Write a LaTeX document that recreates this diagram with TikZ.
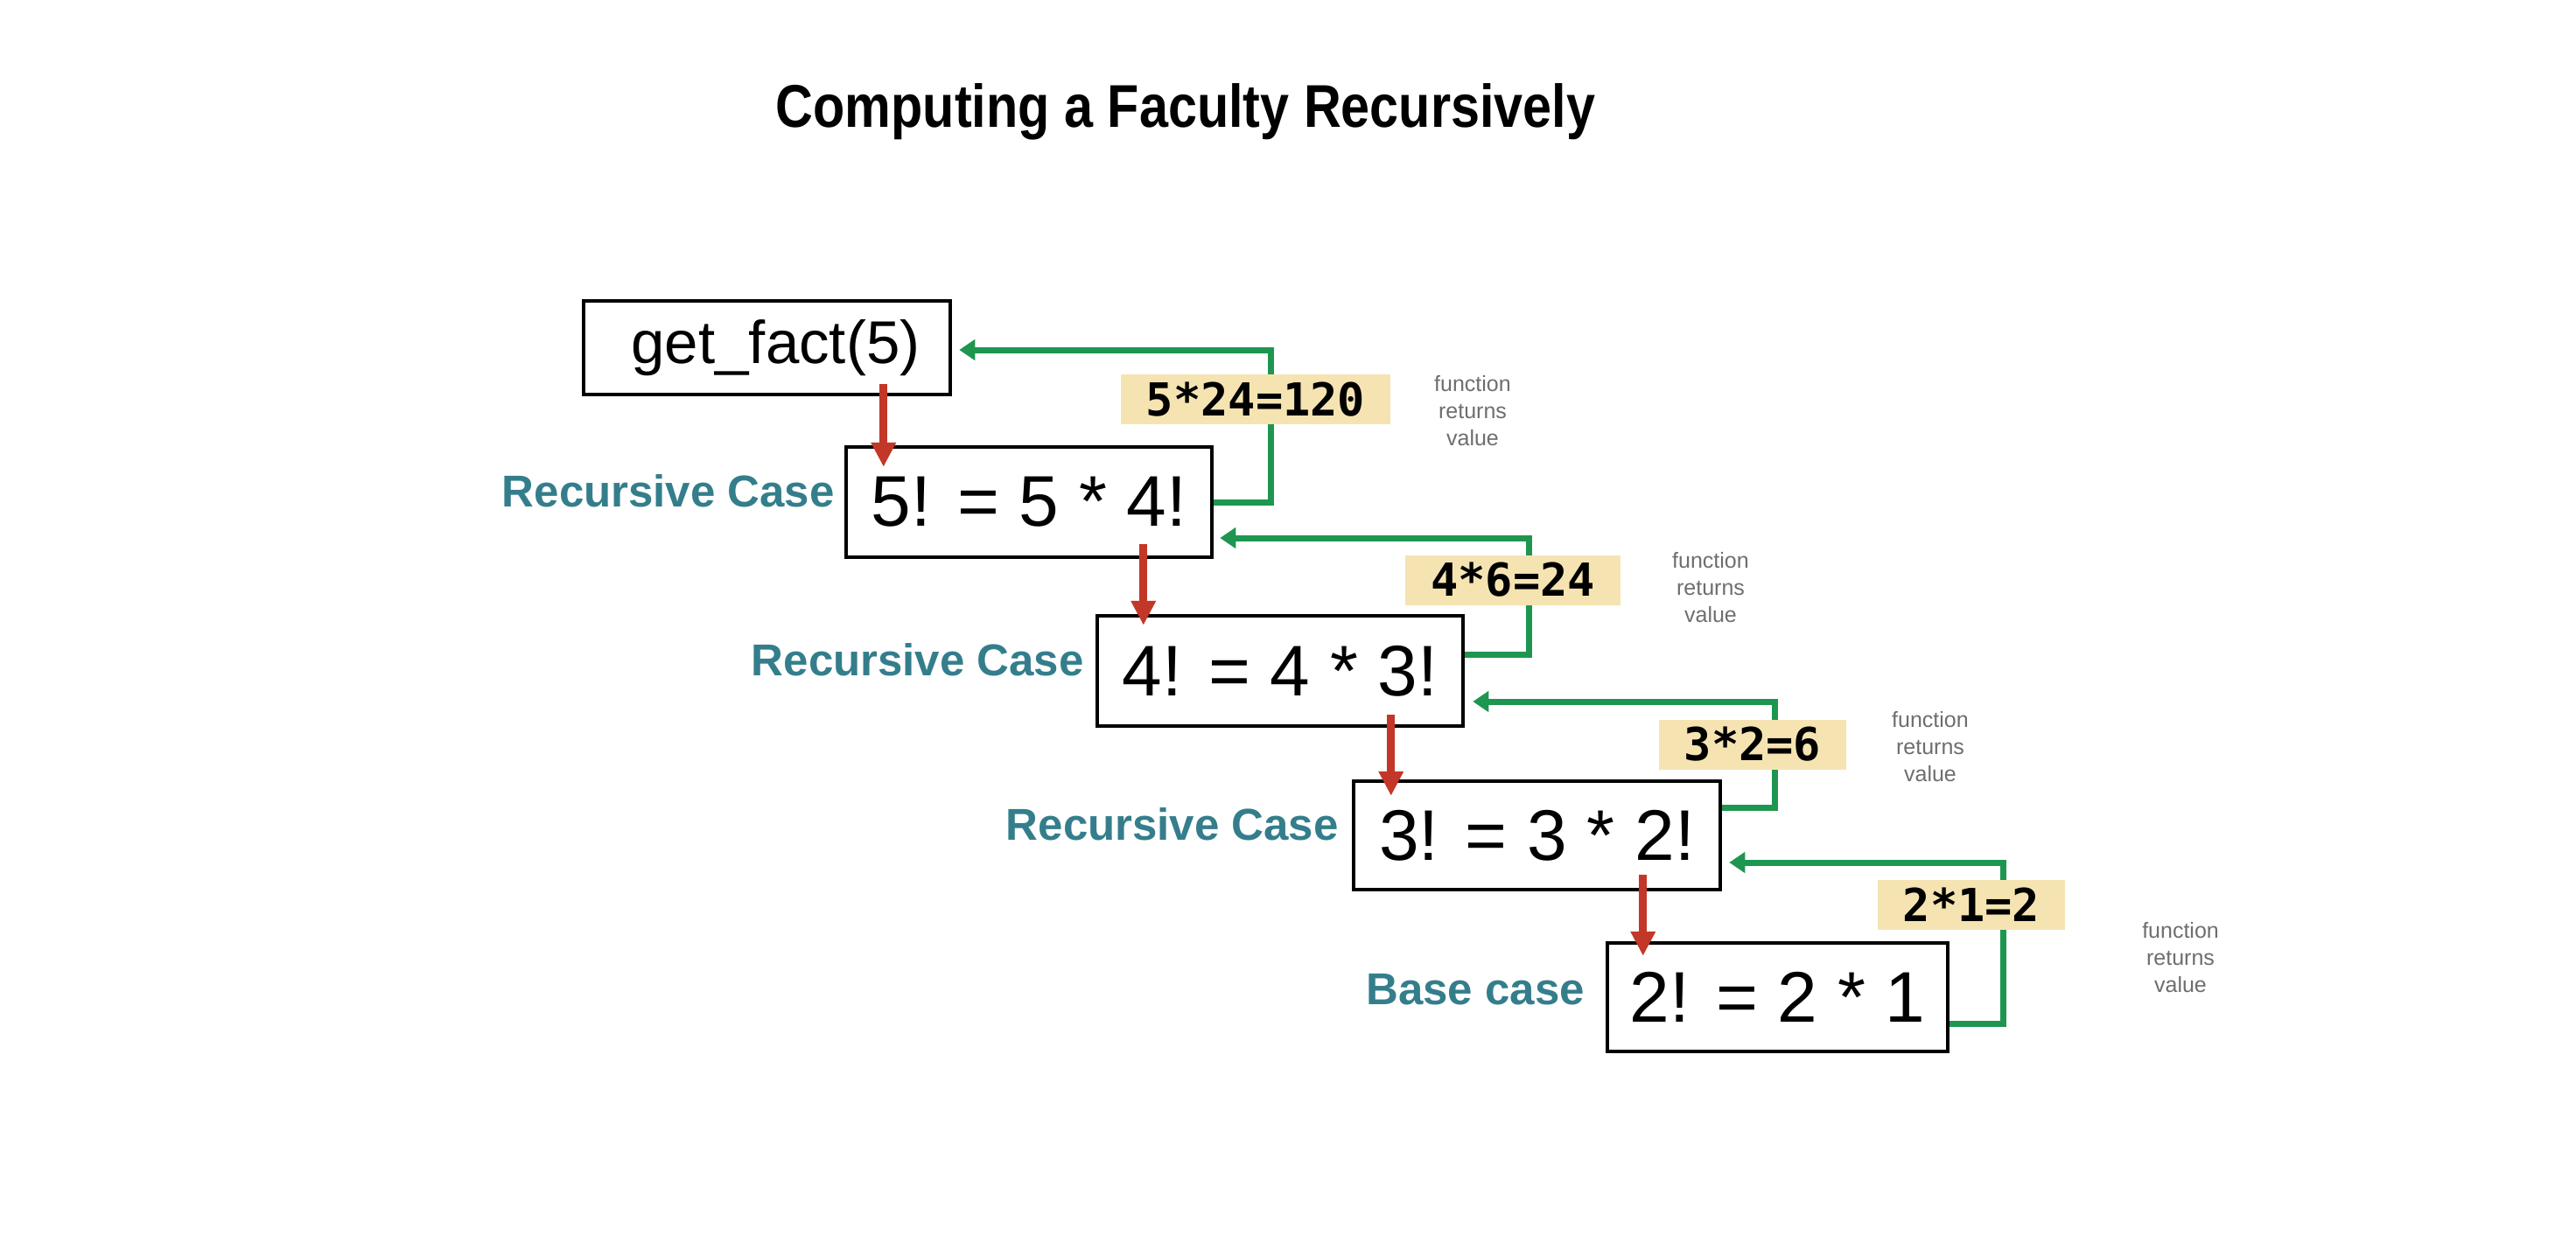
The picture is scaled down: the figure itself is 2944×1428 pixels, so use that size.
\documentclass[tikz,border=0pt]{standalone}
\usepackage{fontspec}
\setmainfont{Liberation Sans}
\newfontfamily\titlefont{Liberation Sans}[FakeStretch=0.86]
\newfontfamily\labfont{DejaVu Sans Mono}
\usetikzlibrary{arrows.meta,calc}
\definecolor{retgreen}{RGB}{30,150,80}
\definecolor{callred}{RGB}{195,55,40}
\definecolor{caseteal}{RGB}{52,126,140}
\definecolor{labtan}{RGB}{245,228,178}
\definecolor{notegray}{RGB}{110,110,110}
\begin{document}
\begin{tikzpicture}[x=1pt,y=-1pt,
  box/.style={draw=black,line width=4.5pt,fill=white,inner sep=0pt,font=\fontsize{82}{90}\selectfont},
  casetxt/.style={text=caseteal,font=\fontsize{51}{56}\selectfont\bfseries,anchor=base east,inner sep=0pt},
  vallab/.style={fill=labtan,inner xsep=29pt,inner ysep=0pt,minimum height=57pt,font=\labfont\bfseries\fontsize{52}{56}\selectfont},
  note/.style={text=notegray,align=center,font=\fontsize{25}{31}\selectfont,inner sep=0pt},
  call/.style={draw=callred,line width=9pt,-{Triangle[length=28pt,width=27pt]}},
  ret/.style={draw=retgreen,line width=7pt,-{Triangle[length=18pt,width=23pt]}}
]
\useasboundingbox[fill=white] (0,0) rectangle (2944,1428);

% title
\node[font=\titlefont\bfseries\fontsize{69}{76}\selectfont,anchor=base,inner sep=0pt] (title) at (1355,145) {Computing a Faculty Recursively};

% boxes
\node[box,minimum width=419pt,minimum height=107pt,font=\fontsize{69}{75}\selectfont] (b0) at (876.5,397.5) {\hspace*{20pt}get\_fact(5)};
\node[box,minimum width=418pt,minimum height=126pt] (b1) at (1176,574) {5! = 5 * 4!};
\node[box,minimum width=418pt,minimum height=126pt] (b2) at (1463,767) {4! = 4 * 3!};
\node[box,minimum width=419pt,minimum height=124pt] (b3) at (1756.5,955) {3! = 3 * 2!};
\node[box,minimum width=389pt,minimum height=124pt] (b4) at (2031.5,1140) {2! = 2 * 1};

% case labels
\node[casetxt] (c1) at (954,579) {Recursive Case};
\node[casetxt] (c2) at (1239,772) {Recursive Case};
\node[casetxt] (c3) at (1530,960) {Recursive Case};
\node[casetxt] (c4) at (1811,1148) {Base case};

% return paths
\coordinate (k1) at (1452,400);
\coordinate (k2) at (1747,615);
\coordinate (k3) at (2028,802);
\coordinate (k4) at (2289,986);
\coordinate (t1) at ([shift={(8,2.5)}]b0.east);
\coordinate (t2) at ([shift={(7,41)}]b1.east);
\coordinate (t3) at ([shift={(9,35)}]b2.east);
\coordinate (t4) at ([shift={(8,31)}]b3.east);
\draw[ret] (b1.east) -| (k1) -- (t1);
\draw[ret] ([shift={(0,-19)}]b2.east) -| (k2) -- (t2);
\draw[ret] ([shift={(0,-32)}]b3.east) -| (k3) -- (t3);
\draw[ret] ([shift={(0,30)}]b4.east) -| (k4) -- (t4);

% value labels
\node[vallab] (v1) at (1435,456.5) {5*24=120};
\node[vallab] (v2) at (1729,663) {4*6=24};
\node[vallab] (v3) at (2003,851) {3*2=6};
\node[vallab] (v4) at (2253,1034.5) {2*1=2};

% notes
\node[note] (n1) at (1683,470) {function\\returns\\value};
\node[note] (n2) at (1955,672) {function\\returns\\value};
\node[note] (n3) at (2206,854) {function\\returns\\value};
\node[note] (n4) at (2492,1095) {function\\returns\\value};

% calls
\draw[call] ($(b0.south west)+(345,-14)$) -- ($(b1.north west)+(45,25)$);
\draw[call] ($(b1.south west)+(342,-17)$) -- ($(b2.north west)+(55,13)$);
\draw[call] ($(b2.south west)+(338,-15)$) -- ($(b3.north west)+(45,19)$);
\draw[call] ($(b3.south west)+(333,-19)$) -- ($(b4.north west)+(43,17)$);
\end{tikzpicture}
\end{document}
